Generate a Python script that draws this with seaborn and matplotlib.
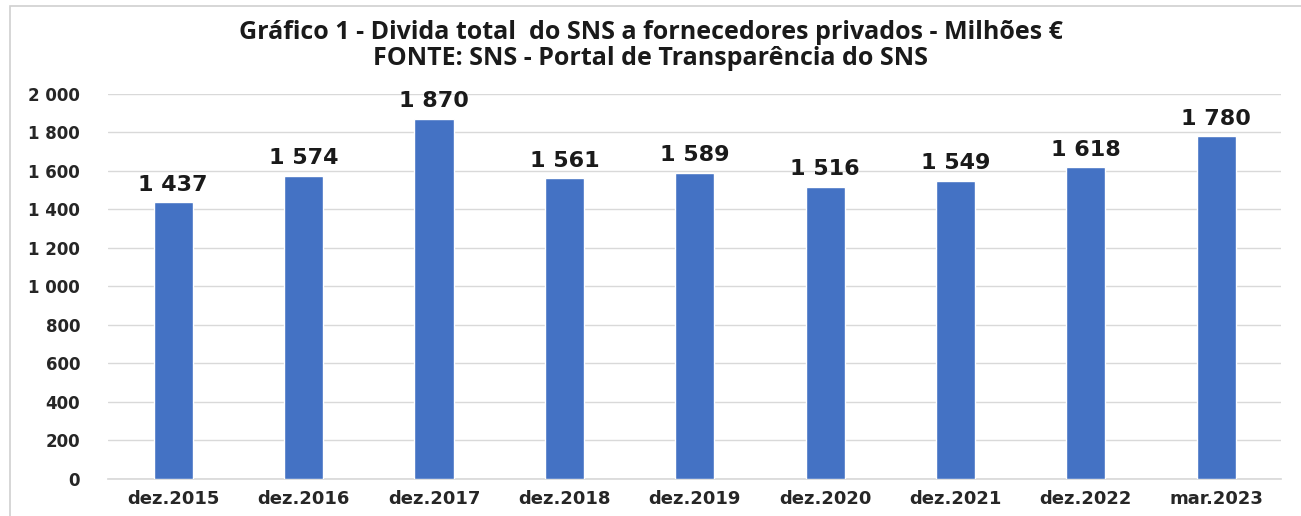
import matplotlib
matplotlib.use("Agg")
import matplotlib.pyplot as plt
import seaborn as sns
import pandas as pd
from matplotlib.ticker import FuncFormatter
from matplotlib.patches import Rectangle

sns.set_theme(style="white")
plt.rcParams['font.family'] = ['DejaVu Sans']

periods = ['dez.2015', 'dez.2016', 'dez.2017', 'dez.2018', 'dez.2019',
           'dez.2020', 'dez.2021', 'dez.2022', 'mar.2023']
divida = [1437, 1574, 1870, 1561, 1589, 1516, 1549, 1618, 1780]
yticks = [0, 200, 400, 600, 800, 1000, 1200, 1400, 1600, 1800, 2000]

df = pd.DataFrame({'Periodo': periods, 'Divida': divida})

def fmt_pt(v, pos=None):
    return f"{int(v):,}".replace(",", " ")

fig = plt.figure(figsize=(13.01, 5.16), dpi=100)
ax = fig.add_axes([0.083, 0.072, 0.902, 0.746])

sns.barplot(data=df, x='Periodo', y='Divida', color='#4472C4', width=0.3,
            saturation=1, ax=ax, zorder=3)

ax.set_ylim(0, 2000)
ax.set_xlim(-0.5, len(periods) - 0.5)
ax.set_yticks(yticks)
ax.yaxis.set_major_formatter(FuncFormatter(fmt_pt))
ax.grid(axis='y', color='#d9d9d9', linewidth=1, zorder=0)
for s in ['top', 'right', 'left']:
    ax.spines[s].set_visible(False)
ax.spines['bottom'].set_color('#d9d9d9')
ax.set_xlabel('')
ax.set_ylabel('')
ax.tick_params(axis='y', length=0, pad=20, labelsize=12, labelcolor='#262626')
ax.tick_params(axis='x', length=0, pad=8, labelsize=13, labelcolor='#262626')
for lab in ax.get_xticklabels() + ax.get_yticklabels():
    lab.set_fontweight('bold')

for i, v in enumerate(divida):
    ax.text(i, v + 40, fmt_pt(v), ha='center', va='bottom',
            fontsize=16, fontweight='bold', color='#1a1a1a')

title_font = ['Open Sans', 'DejaVu Sans']
fig.text(0.5, 0.937, 'Gráfico 1 - Divida total  do SNS a fornecedores privados - Milhões €',
         ha='center', va='center', fontsize=18, fontweight='bold',
         family=title_font, color='#1a1a1a')
fig.text(0.5, 0.886, 'FONTE: SNS - Portal de Transparência do SNS',
         ha='center', va='center', fontsize=18, fontweight='bold',
         family=title_font, color='#1a1a1a')

fig.patches.append(Rectangle((0.008, -0.01), 1.5, 0.998, transform=fig.transFigure,
                             fill=False, edgecolor='#d0d0d0', linewidth=1.2))

fig.savefig('out.png', dpi=100, facecolor='white')
